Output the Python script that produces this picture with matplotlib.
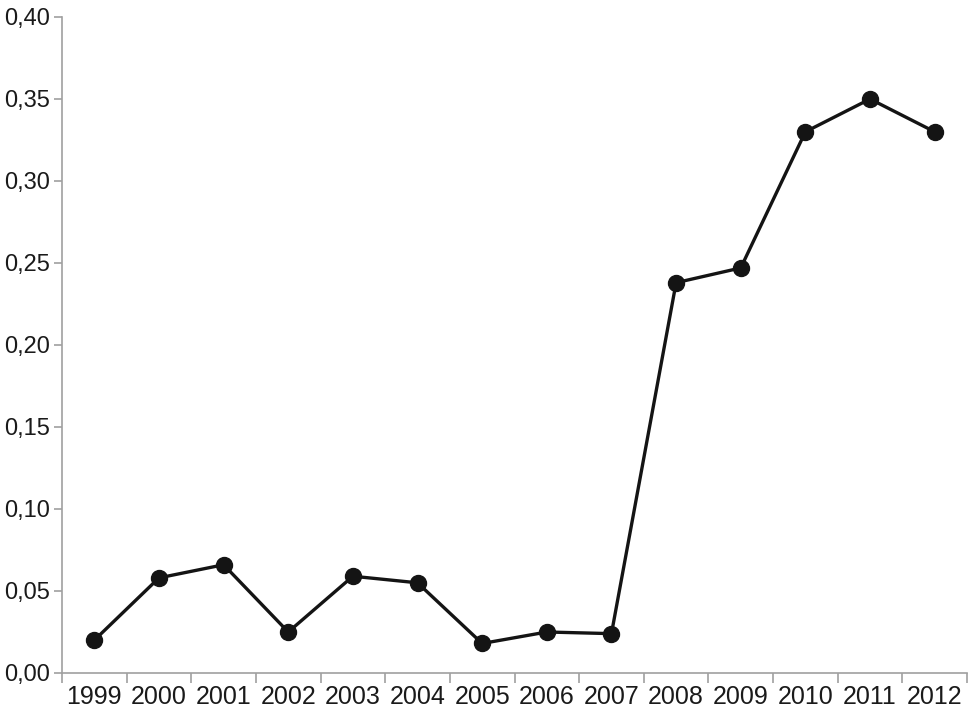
import matplotlib
matplotlib.use("Agg")
import matplotlib.pyplot as plt
import numpy as np
from matplotlib.ticker import FixedLocator, FuncFormatter

years = ["1999", "2000", "2001", "2002", "2003", "2004", "2005", "2006",
         "2007", "2008", "2009", "2010", "2011", "2012"]
values = [0.020, 0.058, 0.066, 0.025, 0.059, 0.055, 0.018, 0.025,
          0.024, 0.238, 0.247, 0.330, 0.350, 0.330]
yticks = [0.00, 0.05, 0.10, 0.15, 0.20, 0.25, 0.30, 0.35, 0.40]

plt.rcParams['font.family'] = ['Liberation Sans', 'DejaVu Sans']

fig = plt.figure(figsize=(9.71, 7.21), dpi=100)
ax = fig.add_axes([62/971, 48/721, (967-62)/971, (673-17)/721])

x = np.arange(len(years))
ax.plot(x, values, color='#141414', lw=2.4, marker='o', ms=11.5,
        markerfacecolor='#141414', markeredgecolor='#141414', zorder=3)

ax.set_xlim(-0.5, len(years) - 0.5)
ax.set_ylim(0, 0.40)

ax.set_yticks(yticks)
ax.yaxis.set_major_formatter(FuncFormatter(lambda v, p: f"{v:.2f}".replace('.', ',')))

ax.set_xticks(x)
ax.set_xticklabels(years)
ax.xaxis.set_minor_locator(FixedLocator(np.arange(-0.5, len(years), 1.0)))
ax.tick_params(axis='x', which='major', length=0, labelsize=18, pad=9, labelcolor='#1a1a1a')
ax.tick_params(axis='x', which='minor', length=7, width=1.2, color='#a0a0a0')
ax.tick_params(axis='y', which='major', length=6, width=1.2, color='#a0a0a0',
               labelsize=17, pad=3, labelcolor='#1a1a1a')

for s in ['top', 'right']:
    ax.spines[s].set_visible(False)
for s in ['left', 'bottom']:
    ax.spines[s].set_color('#a0a0a0')
    ax.spines[s].set_linewidth(1.2)

fig.savefig("out.png", dpi=100)
